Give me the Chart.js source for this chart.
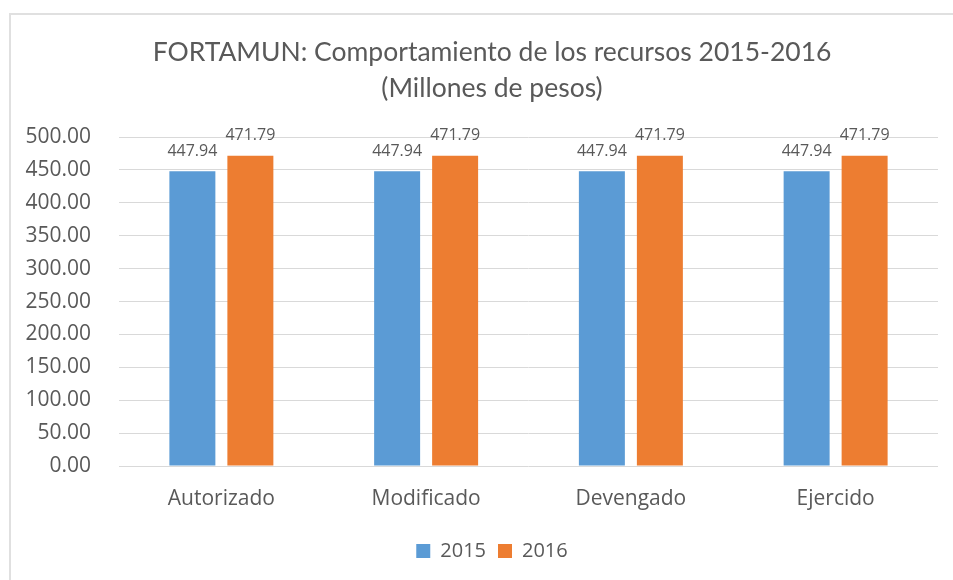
<!DOCTYPE html>
<html>
<head>
<meta charset="utf-8">
<script src="https://cdn.jsdelivr.net/npm/chart.js@4"></script>
<style>
  html, body { margin: 0; padding: 0; background: #fff; overflow: hidden; width: 953px; height: 580px; }
  #frame { position: absolute; left: 9px; top: 13px; width: 966px; height: 600px; border: 2px solid #e0e0e0; box-sizing: border-box; }
  #wrap { position: absolute; left: 9px; top: 13px; width: 966px; height: 567px; }
</style>
</head>
<body>
<div id="frame"></div>
<div id="wrap"><canvas id="c" width="966" height="567"></canvas></div>
<script>
const titleLines = ['FORTAMUN: Comportamiento de los recursos 2015-2016', '(Millones de pesos)'];
const categories = ['Autorizado', 'Modificado', 'Devengado', 'Ejercido'];
const seriesNames = ['2015', '2016'];
const values2015 = [447.94, 447.94, 447.94, 447.94];
const values2016 = [471.79, 471.79, 471.79, 471.79];
const yMin = 0, yMax = 500, yStep = 50;

const textColor = '#595959';
const bodyFont = "'Open Sans', sans-serif";

const labelPlugin = {
  id: 'barLabels',
  afterDatasetsDraw(chart) {
    const ctx = chart.ctx;
    ctx.save();
    ctx.font = "16px 'Open Sans', sans-serif";
    ctx.fillStyle = textColor;
    ctx.textAlign = 'center';
    ctx.textBaseline = 'middle';
    chart.data.datasets.forEach((ds, i) => {
      chart.getDatasetMeta(i).data.forEach((bar, j) => {
        ctx.fillText(ds.data[j].toFixed(2), bar.x, bar.y - 20);
      });
    });
    ctx.restore();
  }
};

new Chart(document.getElementById('c'), {
  type: 'bar',
  data: {
    labels: categories,
    datasets: [
      { label: seriesNames[0], data: values2015, backgroundColor: '#5B9BD5', categoryPercentage: 0.5665, barPercentage: 0.793 },
      { label: seriesNames[1], data: values2016, backgroundColor: '#ED7D31', categoryPercentage: 0.5665, barPercentage: 0.793 }
    ]
  },
  options: {
    responsive: false,
    animation: false,
    layout: { padding: { left: 0, right: 0, top: 0, bottom: 9 } },
    plugins: {
      title: {
        display: true,
        text: titleLines,
        color: textColor,
        font: { family: "Lato, 'Open Sans', sans-serif", size: 26.5, weight: 'normal', lineHeight: 1.36 },
        padding: { top: 21, bottom: 31 }
      },
      legend: {
        position: 'bottom',
        labels: { color: textColor, font: { family: bodyFont, size: 20 }, boxWidth: 14, boxHeight: 14, padding: 12 }
      },
      tooltip: { enabled: false }
    },
    scales: {
      x: {
        grid: { display: false },
        border: { display: false },
        ticks: { color: textColor, font: { family: bodyFont, size: 21 }, padding: 12 },
        afterFit(s) { s.height = 63; }
      },
      y: {
        min: yMin, max: yMax,
        grid: { color: '#d9d9d9', lineWidth: 1, drawTicks: false },
        border: { display: false },
        ticks: { stepSize: yStep, color: textColor, font: { family: bodyFont, size: 21 }, padding: 28, callback: v => v.toFixed(2) },
        afterFit(s) { s.width = 110; }
      },
      yRight: {
        position: 'right',
        display: true,
        min: yMin, max: yMax,
        grid: { display: false, drawTicks: false },
        border: { display: false },
        ticks: { display: false },
        afterFit(s) { s.width = 37; }
      }
    }
  },
  plugins: [labelPlugin]
});
</script>
</body>
</html>
